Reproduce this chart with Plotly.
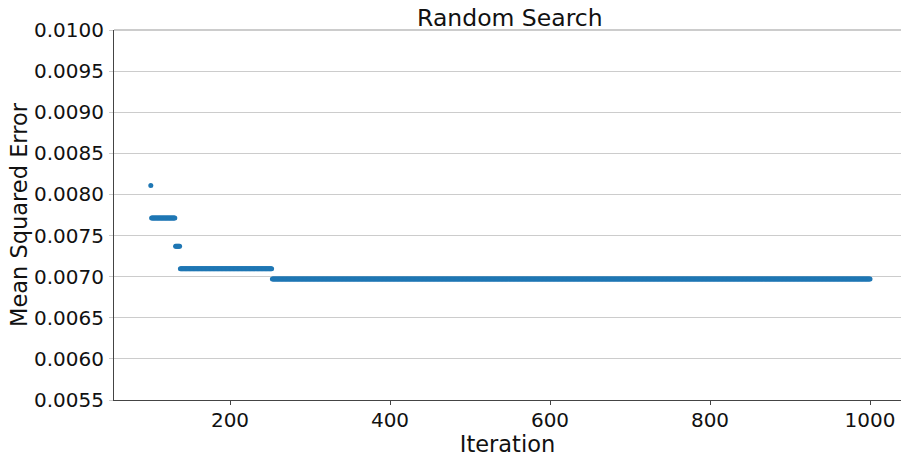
import numpy as np
import plotly.graph_objects as go

# Best-so-far MSE steps (iteration ranges, inclusive)
seg_start = [101, 102, 132, 138, 253]
seg_end = [101, 131, 137, 252, 1000]
seg_mse = [0.00811, 0.007713, 0.007369, 0.007097, 0.006972]

y_ticks = [0.0055, 0.0060, 0.0065, 0.0070, 0.0075, 0.0080, 0.0085, 0.0090, 0.0095, 0.0100]
x_ticks = [200, 400, 600, 800, 1000]

iters = []
vals = []
for s, e, v in zip(seg_start, seg_end, seg_mse):
    for it in range(s, e + 1):
        iters.append(it)
        vals.append(v)

FONT = "DejaVu Sans"
TXT = "#111111"

fig = go.Figure()
fig.add_trace(go.Scatter(
    x=iters, y=vals, mode="markers",
    marker=dict(color="#1f77b4", size=5, line=dict(width=0)),
    showlegend=False,
))

fig.update_layout(
    width=901, height=457,
    margin=dict(l=114, r=0, t=30, b=57),
    paper_bgcolor="white", plot_bgcolor="white",
    font=dict(family=FONT, color=TXT, size=20),
    title=dict(text="Random Search", font=dict(family=FONT, size=23.5, color=TXT),
               x=0.503, xanchor="center", xref="paper",
               y=1, yref="paper", yanchor="bottom", pad=dict(b=4)),
    xaxis=dict(
        range=[55, 1038.75], tickmode="array", tickvals=x_ticks,
        showgrid=False, zeroline=False,
        showline=True, linecolor="#444444", linewidth=1,
        ticks="outside", ticklen=4, tickcolor="#444444",
        ticklabelstandoff=-2,
        tickfont=dict(family=FONT, size=20, color=TXT),
        title=dict(text="Iteration", font=dict(family=FONT, size=22.5, color=TXT), standoff=0),
    ),
    yaxis=dict(
        range=[0.0055, 0.0100], tickmode="array", tickvals=y_ticks,
        tickformat=".4f",
        showgrid=True, gridcolor="#cccccc", gridwidth=1, zeroline=False,
        showline=True, linecolor="#444444", linewidth=1,
        ticks="outside", ticklen=4, tickcolor="#cccccc",
        ticklabelstandoff=1,
        tickfont=dict(family=FONT, size=20, color=TXT),
        title=dict(text="Mean Squared Error", font=dict(family=FONT, size=22.5, color=TXT), standoff=0),
    ),
    shapes=[dict(type="line", xref="paper", yref="paper", x0=0, x1=1, y0=1, y1=1,
                 line=dict(color="#999999", width=1))],
)

fig.write_html("out.html")
